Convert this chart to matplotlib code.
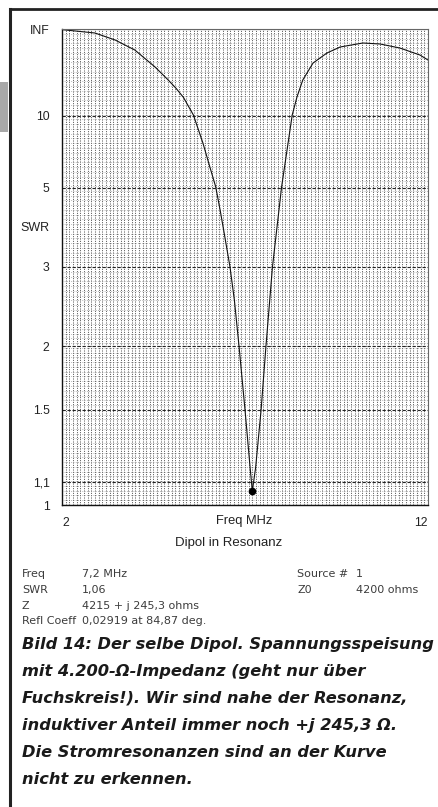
import numpy as np
import matplotlib
matplotlib.use('Agg')
import matplotlib.pyplot as plt
from matplotlib.patches import Rectangle
from matplotlib.lines import Line2D

# SWR sweep (MHz, SWR)
freq = [2.00, 2.90, 3.45, 3.99, 4.54, 4.90, 5.12, 5.32, 5.59, 5.85, 6.04, 6.20,
        6.32, 6.43, 6.59, 6.71, 6.84, 7.00, 7.14, 7.20, 7.29, 7.44, 7.57, 7.75,
        8.00, 8.29, 8.42, 8.58, 8.86, 9.24, 9.60, 10.22, 10.69, 11.23, 11.78,
        12.00]
swr = [1500, 237, 85.6, 44.3, 24.1, 17.7, 15.0, 12.9, 10.07, 7.35, 5.90, 5.03,
       4.26, 3.67, 3.0, 2.51, 1.99, 1.50, 1.17, 1.06, 1.17, 1.50, 1.99, 3.0,
       5.03, 10.07, 13.0, 17.7, 27.0, 38.7, 51.9, 67.0, 62.5, 49.1, 35.6,
       29.7]
res_freq = 7.2
res_swr = 1.06

swr_ticks = [1, 1.1, 1.5, 2, 3, 5, 10, 1e6]
swr_labels = ['1', '1,1', '1.5', '2', '3', '5', '10', 'INF']
freq_ticks = [2, 12]

info_left = [('Freq', '7,2 MHz'), ('SWR', '1,06'), ('Z', '4215 + j 245,3 ohms'),
             ('Refl Coeff', '0,02919 at 84,87 deg.')]
info_right = [('Source #', '1'), ('Z0', '4200 ohms')]
caption = ['Bild 14: Der selbe Dipol. Spannungsspeisung',
           'mit 4.200-\u03a9-Impedanz (geht nur über',
           'Fuchskreis!). Wir sind nahe der Resonanz,',
           'induktiver Anteil immer noch +j 245,3 \u03a9.',
           'Die Stromresonanzen sind an der Kurve',
           'nicht zu erkennen.']

W, H = 438, 807


def px(x, y):
    return x / W, 1 - y / H


def fwd(s):
    s = np.asarray(s, dtype=float)
    return 1 - 2 / (s + 1)


def inv(r):
    r = np.asarray(r, dtype=float)
    return (1 + r) / np.maximum(1 - r, 1e-9)


fig = plt.figure(figsize=(W / 100, H / 100), dpi=100)
ax = fig.add_axes([62 / W, 1 - 505 / H, 366 / W, 476 / H])
ax.set_yscale('function', functions=(fwd, inv))
ax.set_xlim(2, 12)
ax.set_ylim(1, 1e6)

# fine grid: 0.1 MHz vertically, 0.01 reflection coefficient horizontally
ax.set_xticks(np.arange(2, 12.01, 0.1), minor=True)
rho_minor = np.arange(0.01, 1.0, 0.01)
ax.set_yticks(inv(rho_minor), minor=True)
ax.grid(which='minor', axis='x', color='#4a4a4a', linestyle=(0, (1, 1.4)), linewidth=0.7)
ax.grid(which='minor', axis='y', color='#777777', linestyle=(0, (1, 2.2)), linewidth=0.5)
ax.set_yticks(swr_ticks)
ax.set_yticklabels(swr_labels)
ax.set_xticks(freq_ticks)
ax.set_xticklabels(['2', '12'])
ax.grid(which='major', axis='y', color='#222222', linestyle=(0, (3, 1.5)), linewidth=0.8)
ax.tick_params(which='both', length=0)
ax.tick_params(axis='y', labelsize=8.8, pad=9, colors='#222222')
ax.tick_params(axis='x', labelsize=8.8, pad=9, colors='#222222')
for lab in ax.get_xticklabels() + ax.get_yticklabels():
    lab.set_fontfamily('Liberation Sans')
ax.get_xticklabels()[0].set_horizontalalignment('left')
ax.get_xticklabels()[1].set_horizontalalignment('right')
for side in ['left', 'bottom']:
    ax.spines[side].set_color('#111111')
    ax.spines[side].set_linewidth(1.0)
for side in ['top', 'right']:
    ax.spines[side].set_color('#666666')
    ax.spines[side].set_linewidth(0.8)

ax.plot(freq, swr, color='#111111', linewidth=0.8)
ax.plot([res_freq], [res_swr], marker='o', markersize=4.5, color='black')

fig.text(*px(35, 228), 'SWR', fontsize=9, family='Liberation Sans',
         ha='center', va='center', color='#222222')
fig.text(*px(244, 521), 'Freq MHz', fontsize=9.3, family='Liberation Sans',
         ha='center', va='center', color='#222222')
fig.text(*px(229, 543), 'Dipol in Resonanz', fontsize=9.5, family='Liberation Sans',
         ha='center', va='center', color='#222222')

info_kw = dict(fontsize=8, family='DejaVu Sans', va='center', color='#3c3c3c')
for i, (k, v) in enumerate(info_left):
    y = 574 + i * 15.8
    fig.text(*px(22, y), k, **info_kw)
    fig.text(*px(82, y), v, **info_kw)
for i, (k, v) in enumerate(info_right):
    y = 574 + i * 15.8
    fig.text(*px(297, y), k, **info_kw)
    fig.text(*px(356, y), v, **info_kw)

for i, line in enumerate(caption):
    fig.text(*px(22, 644 + i * 27.2), line, fontsize=11.7, family='DejaVu Sans',
             weight='bold', style='italic', va='center', color='#1a1a1a')

# page frame and grey tab from the scan
fig.add_artist(Line2D([9.5 / W, 9.5 / W], [0, 1 - 9 / H], transform=fig.transFigure,
                      color='#222222', linewidth=2.2))
fig.add_artist(Line2D([9.5 / W, 1], [1 - 9 / H, 1 - 9 / H], transform=fig.transFigure,
                      color='#222222', linewidth=2.0))
fig.add_artist(Rectangle((0, 1 - 132 / H), 8 / W, 50 / H, transform=fig.transFigure,
                         facecolor='#a8a8a8', edgecolor='none'))

fig.savefig('out.png', dpi=100)
